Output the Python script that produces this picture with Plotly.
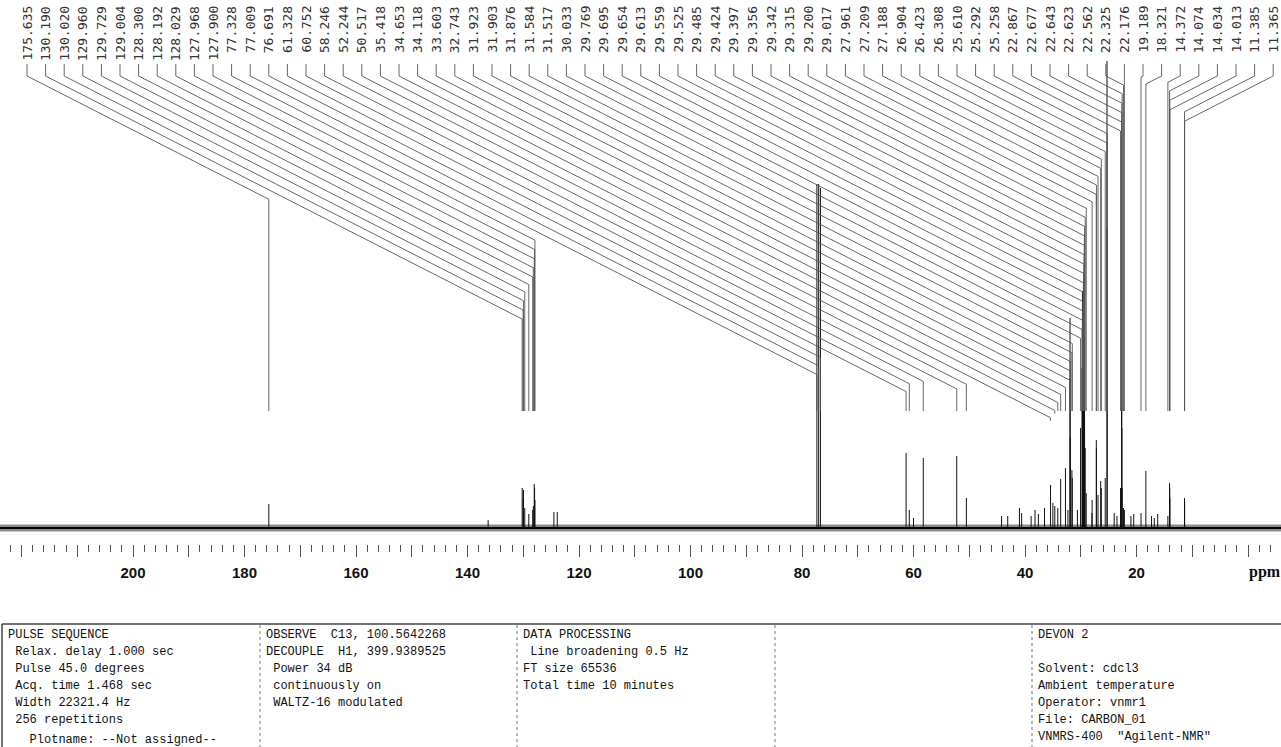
import plotly.graph_objects as go

# ---------------- data ----------------
label_ppm = [175.635, 130.190, 130.020, 129.960, 129.729, 129.004, 128.300, 128.192, 128.029, 127.968,
             127.900, 77.328, 77.009, 76.691, 61.328, 60.752, 58.246, 52.244, 50.517, 35.418,
             34.653, 34.118, 33.603, 32.743, 31.923, 31.903, 31.876, 31.584, 31.517, 30.033,
             29.769, 29.695, 29.654, 29.613, 29.559, 29.525, 29.485, 29.424, 29.397, 29.356,
             29.342, 29.315, 29.200, 29.017, 27.961, 27.209, 27.188, 26.904, 26.423, 26.308,
             25.610, 25.292, 25.258, 22.867, 22.677, 22.643, 22.623, 22.562, 22.325, 22.176,
             19.189, 18.321, 14.372, 14.074, 14.034, 14.013, 11.385, 11.365]
# intensity of the labelled peaks (arbitrary units)
label_int = [24, 40, 30, 38, 20, 14, 18, 22, 44, 40,
             28, 344, 344, 340, 75, 18, 70, 72, 30, 43,
             22, 20, 49, 60, 210, 150, 90, 58, 50, 100,
             160, 237, 230, 220, 200, 180, 170, 150, 140, 130,
             120, 110, 80, 35, 28, 88, 80, 33, 47, 40,
             50, 467, 300, 40, 150, 120, 100, 40, 20, 18,
             15, 57, 12, 45, 40, 30, 30, 26]
# small unlabelled peaks
extra_ppm = [136.3, 124.5, 123.9, 44.2, 43.1, 41.0, 40.6, 38.9, 38.2, 37.6,
             36.5, 35.0, 32.3, 30.6, 28.0, 24.0, 23.5, 21.0, 20.5, 17.3, 16.8, 16.2, 60.0]
extra_int = [8, 16, 16, 12, 12, 20, 15, 12, 18, 14,
             20, 25, 18, 18, 15, 15, 12, 12, 14, 12, 10, 14, 10]

major_ticks = list(range(0, 221, 10))
tick_text = {200: "200", 180: "180", 160: "160", 140: "140", 120: "120",
             100: "100", 80: "80", 60: "60", 40: "40", 20: "20"}

col1 = ["PULSE SEQUENCE", " Relax. delay 1.000 sec", " Pulse 45.0 degrees", " Acq. time 1.468 sec",
        " Width 22321.4 Hz", " 256 repetitions"]
col1_tail = "   Plotname: --Not assigned--"
col2 = ["OBSERVE  C13, 100.5642268", "DECOUPLE  H1, 399.9389525", " Power 34 dB",
        " continuously on", " WALTZ-16 modulated"]
col3 = ["DATA PROCESSING", " Line broadening 0.5 Hz", "FT size 65536", "Total time 10 minutes"]
col5 = ["DEVON 2", "", "Solvent: cdcl3", "Ambient temperature", "Operator: vnmr1",
        "File: CARBON_01", 'VNMRS-400  "Agilent-NMR"']

# ---------------- layout constants (pixels) ----------------
W, H = 1281, 747
PX0 = 1248.0      # pixel x of 0 ppm
PPX = 5.575       # pixels per ppm
BASE = 528.0      # pixel y of baseline
PB = 544.0        # pixel y of plot bottom


def ppm_of(xpx):
    return (PX0 - xpx) / PPX


def px_of(ppm):
    return PX0 - PPX * ppm


def yd(ypx):
    return BASE - ypx


def py(ypx):
    return (PB - ypx) / PB


fig = go.Figure()

# baseline (noise band look)
xr = [PX0 / PPX, (PX0 - W) / PPX]
fig.add_trace(go.Scatter(x=xr, y=[0, 0], mode="lines",
                         line=dict(color="rgba(0,0,0,0.45)", width=7),
                         hoverinfo="skip", showlegend=False))
fig.add_trace(go.Scatter(x=xr, y=[0, 0], mode="lines",
                         line=dict(color="#000", width=2),
                         hoverinfo="skip", showlegend=False))

# peaks
px_, py_ = [], []
for p, h in list(zip(label_ppm, label_int)) + list(zip(extra_ppm, extra_int)):
    px_ += [p, p, None]
    py_ += [0, h, None]
fig.add_trace(go.Scatter(x=px_, y=py_, mode="lines", line=dict(color="#111", width=1),
                         hoverinfo="skip", showlegend=False))

# leader lines and labels
lx0, lstep = 27.0, 18.6
SLOPE = 0.51
lxs, lys = [], []
annotations = []
for i, p in enumerate(label_ppm):
    lx = lx0 + i * lstep
    pk = px_of(p)
    knee = 76 + SLOPE * abs(pk - lx)
    yend = max(411.0, knee + 3)
    pts = [(lx, 64), (lx, 76), (pk, knee), (pk, yend)]
    for a, b in pts:
        lxs.append(ppm_of(a))
        lys.append(yd(b))
    lxs.append(None)
    lys.append(None)
    annotations.append(dict(x=ppm_of(lx), y=yd(4), xref="x", yref="y", text=f"{p:.3f}",
                            textangle=-90, showarrow=False, xanchor="center", yanchor="top",
                            font=dict(family="DejaVu Sans Mono", size=13, color="#333")))
fig.add_trace(go.Scatter(x=lxs, y=lys, mode="lines", line=dict(color="#555", width=0.9),
                         hoverinfo="skip", showlegend=False))

# ppm label
annotations.append(dict(x=1265 / W, y=py(572), xref="paper", yref="paper", text="<b>ppm</b>",
                        showarrow=False, xanchor="center", yanchor="middle",
                        font=dict(family="Liberation Serif", size=16, color="#111")))

# parameter box text
def add_col(lines, x0, y0, step=17):
    for k, t in enumerate(lines):
        if not t:
            continue
        annotations.append(dict(x=x0 / W, y=py(y0 + k * step), xref="paper", yref="paper",
                                text=t.replace(" ", "\u00a0"), showarrow=False,
                                xanchor="left", yanchor="middle",
                                font=dict(family="Liberation Mono", size=12, color="#111")))

add_col(col1, 6, 635)
add_col([col1_tail], 6, 740)
add_col(col2, 264, 635)
add_col(col3, 521, 635)
add_col(col5, 1036, 635)

shapes = []
shapes.append(dict(type="line", xref="paper", yref="paper", x0=2 / W, x1=1, y0=py(624), y1=py(624),
                   line=dict(color="#444", width=1.5)))
shapes.append(dict(type="line", xref="paper", yref="paper", x0=2 / W, x1=2 / W, y0=py(624), y1=py(750),
                   line=dict(color="#444", width=1.5)))
for sx in [260, 517, 775, 1032]:
    shapes.append(dict(type="line", xref="paper", yref="paper", x0=sx / W, x1=sx / W,
                       y0=py(625), y1=py(750), line=dict(color="#777", width=1, dash="dot")))

fig.update_layout(
    width=W, height=H, margin=dict(l=0, r=0, t=0, b=H - PB),
    paper_bgcolor="white", plot_bgcolor="white",
    showlegend=False,
    xaxis=dict(range=xr, showgrid=False, zeroline=False, showline=False,
               tickmode="array", tickvals=major_ticks,
               ticktext=[tick_text.get(v, "") for v in major_ticks],
               ticks="outside", ticklen=12, tickwidth=1.2, tickcolor="#555",
               ticklabelstandoff=3,
               tickfont=dict(family="Liberation Sans", size=15, color="#111", weight="bold"),
               minor=dict(dtick=2, tick0=0, ticks="outside", ticklen=7, tickwidth=1.2,
                          tickcolor="#555", showgrid=False)),
    yaxis=dict(range=[-(PB - BASE), BASE], visible=False),
    annotations=annotations, shapes=shapes,
)

fig.write_html("out.html")
